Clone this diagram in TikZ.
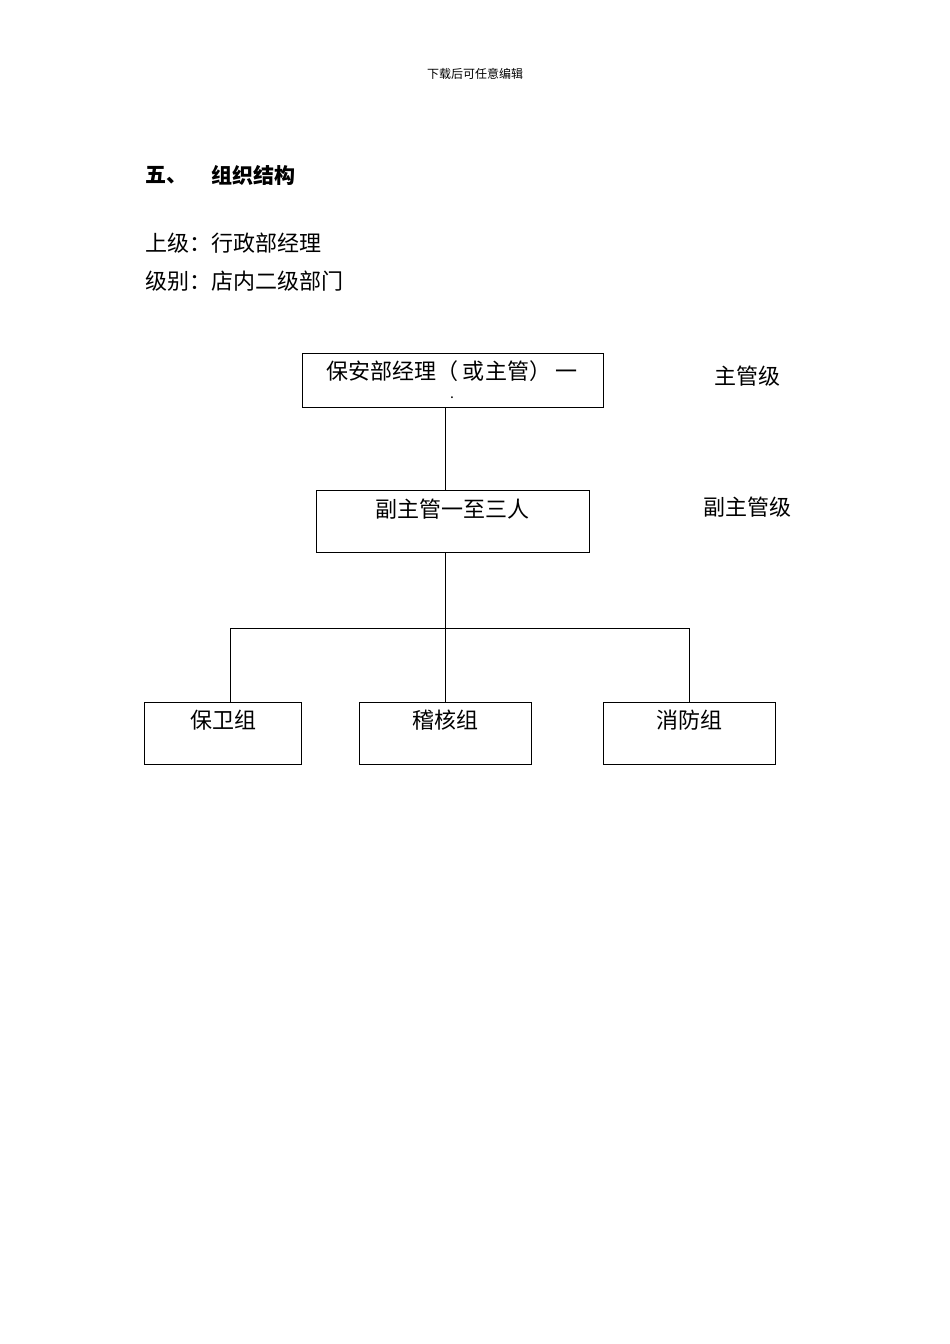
\documentclass[tikz,border=0pt]{standalone}
\usepackage{fontspec}
\newfontfamily\cjk{Noto Sans CJK SC}
\begin{document}
\begin{tikzpicture}[x=1pt,y=-1pt,
  box/.style={draw,line width=1pt},
  lbl/.style={font=\cjk\fontsize{22}{24}\selectfont,inner sep=0pt},
  ln/.style={line width=1pt}]
\useasboundingbox (0,0) rectangle (950,1344);
\node[font=\cjk\fontsize{12}{13}\selectfont] (hdr) at (475,74) {下载后可任意编辑};
\node[lbl,anchor=west,font=\cjk\bfseries\fontsize{21}{23}\selectfont] (t1) at (145,175) {五、};
\node[lbl,anchor=west,font=\cjk\bfseries\fontsize{21}{23}\selectfont] (t2) at (211,175) {组织结构};
\node[lbl,anchor=west] (s1) at (145,243) {上级：行政部经理};
\node[lbl,anchor=west] (s2) at (145,281) {级别：店内二级部门};
\draw[box] (302,353) rectangle (603,407);
\node[lbl] (b1) at (452,371) {保安部经理（ 或主管） 一};
\node[lbl,font=\cjk\fontsize{14}{14}\selectfont] (b1d) at (452,398) {.};
\coordinate (b1b) at (445,407);
\node[lbl,anchor=west] (r1) at (714,376) {主管级};
\draw[box] (316,490) rectangle (589,552);
\node[lbl] (b2) at (452,509) {副主管一至三人};
\coordinate (b2t) at (445,490);
\coordinate (b2b) at (445,552);
\node[lbl,anchor=west] (r2) at (703,507) {副主管级};
\draw[box] (144,702) rectangle (301,764);
\draw[box] (359,702) rectangle (531,764);
\draw[box] (603,702) rectangle (775,764);
\node[lbl] (c1) at (223,720) {保卫组};
\node[lbl] (c2) at (445,720) {稽核组};
\node[lbl] (c3) at (689,720) {消防组};
\coordinate (c1t) at (230,702);
\coordinate (c2t) at (445,702);
\coordinate (c3t) at (689,702);
\coordinate (j) at (445,628);
\draw[ln] (b1b) -- (b2t);
\draw[ln] (b2b) -- (c2t);
\draw[ln] (c1t) -- (c1t |- j) -- (c3t |- j) -- (c3t);
\end{tikzpicture}
\end{document}
